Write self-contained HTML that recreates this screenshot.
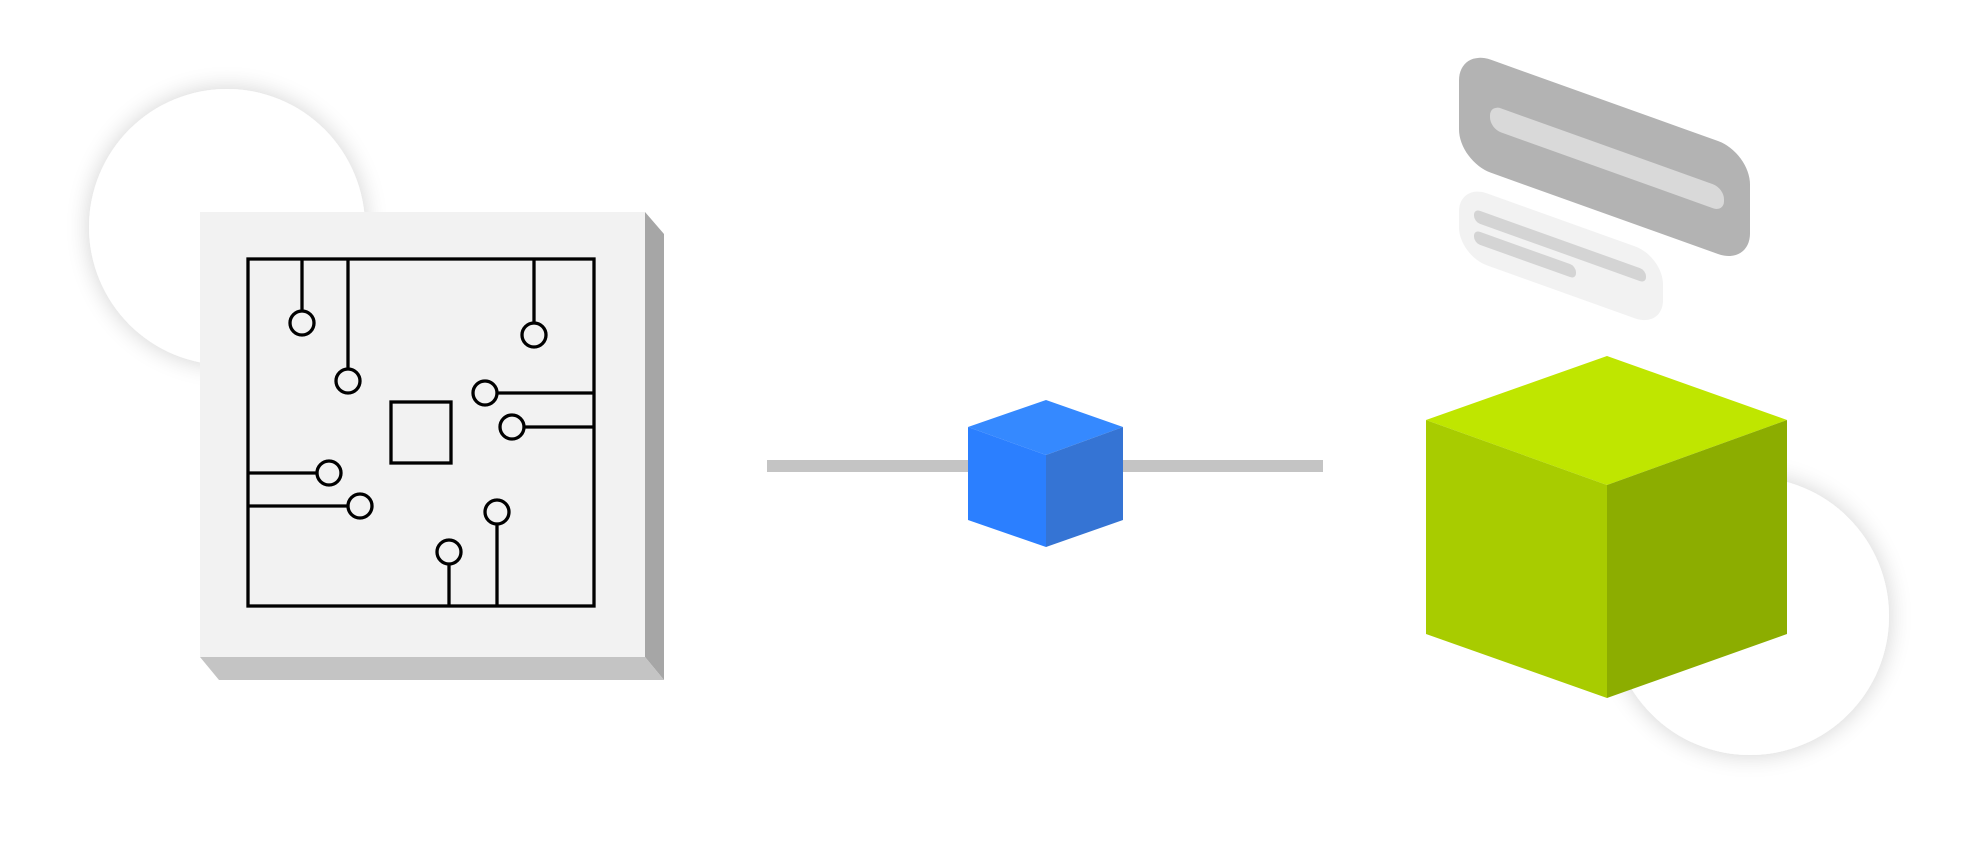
<!DOCTYPE html>
<html><head><meta charset="utf-8"><style>html,body{margin:0;padding:0;background:#fff}svg{display:block}</style></head>
<body>
<svg width="1979" height="844" viewBox="0 0 1979 844" xmlns="http://www.w3.org/2000/svg">
<defs>
<filter id="sh" x="-30%" y="-30%" width="160%" height="160%">
<feGaussianBlur in="SourceAlpha" stdDeviation="12"/>
<feComponentTransfer><feFuncA type="linear" slope="0.18"/></feComponentTransfer>
<feMerge><feMergeNode/><feMergeNode in="SourceGraphic"/></feMerge>
</filter>
</defs>
<circle cx="227" cy="227" r="138" fill="#fff" filter="url(#sh)"/>
<circle cx="1750" cy="616" r="139" fill="#fff" filter="url(#sh)"/>

<!-- board -->
<polygon points="645,212 664,234 664,680 645,657" fill="#a6a6a6"/>
<polygon points="200,657 645,657 664,680 219,680" fill="#c4c4c4"/>
<rect x="200" y="212" width="445" height="445" fill="#f2f2f2"/>
<g stroke="#000" stroke-width="3.3" fill="none">
<rect x="248" y="259" width="346" height="347"/>
<line x1="302" y1="259" x2="302" y2="311"/><circle cx="302" cy="323" r="12"/>
<line x1="348" y1="259" x2="348" y2="369"/><circle cx="348" cy="381" r="12"/>
<line x1="534" y1="259" x2="534" y2="323"/><circle cx="534" cy="335" r="12"/>
<line x1="497" y1="393" x2="594" y2="393"/><circle cx="485" cy="393" r="12"/>
<line x1="524" y1="427" x2="594" y2="427"/><circle cx="512" cy="427" r="12"/>
<line x1="248" y1="473" x2="317" y2="473"/><circle cx="329" cy="473" r="12"/>
<line x1="248" y1="506" x2="348" y2="506"/><circle cx="360" cy="506" r="12"/>
<line x1="497" y1="524" x2="497" y2="606"/><circle cx="497" cy="512" r="12"/>
<line x1="449" y1="564" x2="449" y2="606"/><circle cx="449" cy="552" r="12"/>
<rect x="391" y="402" width="60" height="61"/>
</g>

<!-- connector -->
<rect x="767" y="460" width="556" height="12" fill="#c4c4c4"/>

<!-- blue cube -->
<polygon points="968,427 1046,400 1123,427 1046,455" fill="#3589ff"/>
<polygon points="968,427 1046,455 1046,547 968,520" fill="#2b7fff"/>
<polygon points="1046,455 1123,427 1123,520 1046,547" fill="#3574d4"/>

<!-- green cube -->
<polygon points="1426,420 1607,356 1787,420 1607,485" fill="#bfe600"/>
<polygon points="1426,420 1607,485 1607,698 1426,634" fill="#a8cc00"/>
<polygon points="1607,485 1787,420 1787,634 1607,698" fill="#8cad00"/>

<!-- slabs -->
<g transform="matrix(1,0.358,0,1,0,0)">
<rect x="1459" y="-474" width="291" height="113" rx="32" fill="#b3b3b3"/>
<rect x="1490" y="-429" width="234" height="24" rx="11" fill="#d9d9d9"/>
<rect x="1459" y="-339" width="204" height="72" rx="28" fill="#f2f2f2"/>
<rect x="1474" y="-319" width="172" height="13" rx="6" fill="#d4d4d4"/>
<rect x="1474" y="-298" width="102" height="13" rx="6" fill="#d4d4d4"/>
</g>
</svg>
</body></html>
